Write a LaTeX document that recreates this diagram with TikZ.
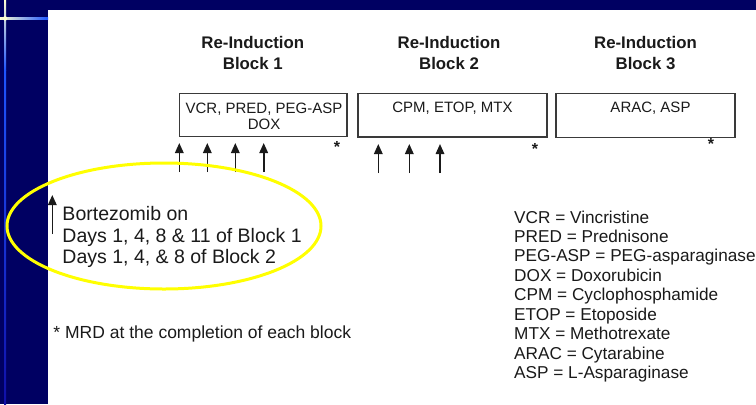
\documentclass[tikz,border=0pt]{standalone}
\usepackage{fontspec}
\setmainfont{Liberation Sans}
\usetikzlibrary{arrows.meta,shapes.geometric}
\definecolor{navy}{HTML}{000062}
\definecolor{ink}{HTML}{1A1A1A}
\definecolor{boxline}{HTML}{3A3A3A}
\definecolor{glow}{HTML}{FFFFD0}
\definecolor{lineblue}{HTML}{1F55FF}
\definecolor{deepblue}{HTML}{1010A8}
\definecolor{hlyellow}{HTML}{FFFF00}
\tikzset{
  blockbox/.style={draw=boxline, line width=1.3bp, minimum width=#1, minimum height=43.5bp, inner sep=0pt},
  titletext/.style={text=ink, inner sep=0pt, anchor=base, font=\fontsize{16.8bp}{20bp}\selectfont\bfseries},
  boxtext/.style={text=ink, inner sep=0pt, anchor=base, font=\fontsize{15bp}{17bp}\selectfont},
  startext/.style={text=ink, inner sep=0pt, anchor=north, font=\fontsize{16bp}{17bp}\selectfont\bfseries},
  bigtext/.style={text=ink, inner sep=0pt, anchor=base west, font=\fontsize{19.5bp}{21.7bp}\selectfont},
  legtext/.style={text=ink, inner sep=0pt, anchor=base west, font=\fontsize{17.2bp}{19.5bp}\selectfont},
  uparrow/.style={draw=ink, line width=1.6bp, -{Triangle[width=8.5bp,length=10bp]}},
}
\begin{document}
\begin{tikzpicture}[x=1bp,y=-1bp]
\useasboundingbox (0,0) rectangle (756,404);
\clip (0,0) rectangle (756,404);
% background
\fill[navy] (0,0) rectangle (756,404);
\fill[white] (48,10) rectangle (756,404);
% decorative lines
\shade[top color=glow, bottom color=lineblue] (4,0) rectangle (6.2,70);
\shade[top color=lineblue, bottom color=deepblue] (4,70) rectangle (6.2,404);
\shade[left color=glow, right color=lineblue] (0,17.3) rectangle (48,19.5);
\fill[glow] (5.1,18.4) circle (2.2bp);
% titles
\node[titletext] (t1a) at (252.8,48) {Re-Induction};
\node[titletext] (t1b) at (252.8,69) {Block 1};
\node[titletext] (t2a) at (449,48) {Re-Induction};
\node[titletext] (t2b) at (449,69) {Block 2};
\node[titletext] (t3a) at (645.5,48) {Re-Induction};
\node[titletext] (t3b) at (645.5,69) {Block 3};
% boxes
\node[blockbox=167.5bp] (b1) at (263.25,115) {};
\node[blockbox=189bp] (b2) at (452.5,115.3) {};
\node[blockbox=179bp] (b3) at (645.5,115.5) {};
\node[boxtext] (b1l1) at (264,113) {VCR, PRED, PEG-ASP};
\node[boxtext] (b1l2) at (264,129.7) {DOX};
\node[boxtext] (b2l1) at (452.5,112.5) {CPM, ETOP, MTX};
\node[boxtext] (b3l1) at (650.5,112.3) {ARAC, ASP};
% stars
\node[startext] (s1) at (337,141.5) {*};
\node[startext] (s2) at (535,143.5) {*};
\node[startext] (s3) at (711,138.5) {*};
% arrows block 1
\foreach \i/\x in {1/179.3,2/207.3,3/235.3,4/263.7}{
  \coordinate (p\i s) at (\x,172);
  \coordinate (p\i e) at (\x,143);
  \draw[uparrow] (p\i s) -- (p\i e);
}
% arrows block 2
\foreach \i/\x in {1/378.3,2/409.3,3/440}{
  \coordinate (q\i s) at (\x,173);
  \coordinate (q\i e) at (\x,144);
  \draw[uparrow] (q\i s) -- (q\i e);
}
% bortezomib
\coordinate (bzs) at (52.3,234);
\coordinate (bze) at (52.3,195);
\draw[uparrow] (bzs) -- (bze);
\node[bigtext] (bz1) at (62.3,220.3) {Bortezomib on};
\node[bigtext] (bz2) at (62.3,242) {Days 1, 4, 8 \& 11 of Block 1};
\node[bigtext] (bz3) at (62.3,263.7) {Days 1, 4, \& 8 of Block 2};
\node[ellipse, draw=hlyellow, line width=3bp, minimum width=314bp, minimum height=126bp, inner sep=0pt] (oval) at (164,226) {};
% MRD note
\node[legtext, font=\fontsize{17.5bp}{19.5bp}\selectfont] (mrd) at (53.3,338.3) {* MRD at the completion of each block};
% legend
\foreach \i/\t in {0/{VCR = Vincristine},1/{PRED = Prednisone},2/{PEG-ASP = PEG-asparaginase},3/{DOX = Doxorubicin},4/{CPM = Cyclophosphamide},5/{ETOP = Etoposide},6/{MTX = Methotrexate},7/{ARAC = Cytarabine},8/{ASP = L-Asparaginase}}{
  \node[legtext] (leg\i) at (514,223+19.45*\i) {\t};
}
\end{tikzpicture}
\end{document}
